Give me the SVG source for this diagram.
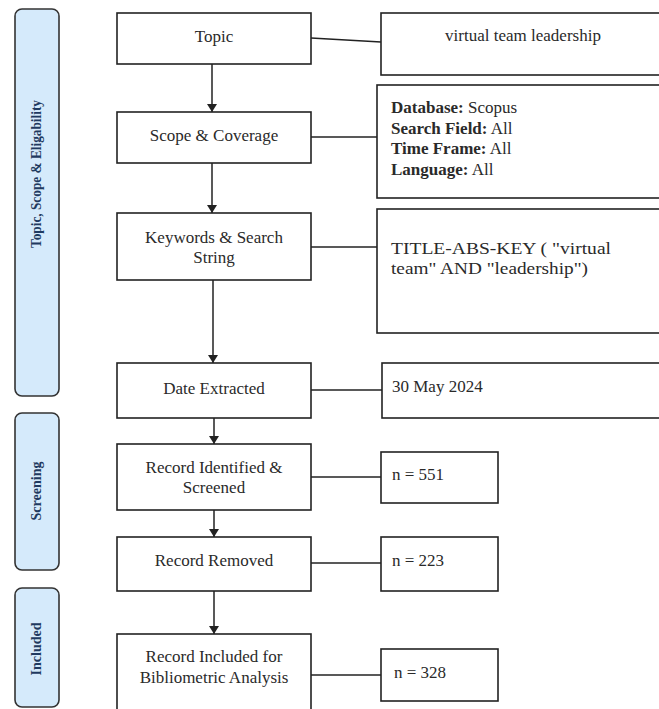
<svg xmlns="http://www.w3.org/2000/svg" width="659" height="709" viewBox="0 0 659 709">
<defs>
<style>
.box{fill:#fff;stroke:#222;stroke-width:1.6}
.side{fill:#d5eafb;stroke:#333;stroke-width:1.6}
.t{font-family:"Liberation Serif","Times New Roman",serif;font-size:17px;fill:#2a2a2a}
.c{text-anchor:middle}
.st{font-family:"Liberation Serif","Times New Roman",serif;font-size:14px;font-weight:bold;fill:#1f3a60;text-anchor:middle}
.ln{stroke:#222;stroke-width:1.5;fill:none}
</style>
<marker id="ah" viewBox="0 0 8 10" refX="8" refY="5" markerWidth="8" markerHeight="10" markerUnits="userSpaceOnUse" orient="auto">
<path d="M0,0 L8,5 L0,10 Z" fill="#222"/>
</marker>
</defs>
<rect width="659" height="709" fill="#fff"/>

<g id="stage-topic">
<rect class="side" x="15" y="9" width="44" height="387" rx="7"/>
<text class="st" transform="translate(41,174) rotate(-90)" textLength="148" lengthAdjust="spacingAndGlyphs">Topic, Scope &amp; Eligability</text>
</g>
<g id="stage-screening">
<rect class="side" x="15" y="413" width="44" height="157" rx="7"/>
<text class="st" transform="translate(41,491) rotate(-90)">Screening</text>
</g>
<g id="stage-included">
<rect class="side" x="15" y="588" width="44" height="119" rx="7"/>
<text class="st" transform="translate(41,649) rotate(-90)">Included</text>
</g>

<g id="connectors">
<line class="ln" x1="212" y1="64" x2="212" y2="112" marker-end="url(#ah)"/>
<line class="ln" x1="212" y1="163" x2="212" y2="213" marker-end="url(#ah)"/>
<line class="ln" x1="213" y1="280" x2="213" y2="363" marker-end="url(#ah)"/>
<line class="ln" x1="214" y1="418" x2="214" y2="444" marker-end="url(#ah)"/>
<line class="ln" x1="214" y1="510" x2="214" y2="537" marker-end="url(#ah)"/>
<line class="ln" x1="214" y1="591" x2="214" y2="634" marker-end="url(#ah)"/>
<line class="ln" x1="311" y1="38" x2="381" y2="42"/>
<line class="ln" x1="311" y1="137" x2="377" y2="137"/>
<line class="ln" x1="311" y1="247" x2="377" y2="247"/>
<line class="ln" x1="311" y1="390" x2="382" y2="390"/>
<line class="ln" x1="311" y1="477" x2="381" y2="477"/>
<line class="ln" x1="311" y1="563" x2="381" y2="563"/>
<line class="ln" x1="311" y1="675" x2="381" y2="675"/>
</g>

<g id="topic">
<rect class="box" x="117" y="13" width="194" height="51"/>
<text class="t c" x="214" y="42">Topic</text>
</g>
<g id="scope">
<rect class="box" x="117" y="112" width="194" height="51"/>
<text class="t c" x="214" y="141">Scope &amp; Coverage</text>
</g>
<g id="keywords">
<rect class="box" x="117" y="213" width="194" height="67"/>
<text class="t c" x="214" y="243">Keywords  &amp; Search</text>
<text class="t c" x="214" y="263">String</text>
</g>
<g id="date">
<rect class="box" x="117" y="363" width="194" height="55"/>
<text class="t c" x="214" y="394">Date Extracted</text>
</g>
<g id="identified">
<rect class="box" x="117" y="444" width="194" height="66"/>
<text class="t c" x="214" y="473">Record Identified &amp;</text>
<text class="t c" x="214" y="493">Screened</text>
</g>
<g id="removed">
<rect class="box" x="117" y="537" width="194" height="54"/>
<text class="t c" x="214" y="566">Record Removed</text>
</g>
<g id="included">
<rect class="box" x="117" y="634" width="194" height="80"/>
<text class="t c" x="214" y="662">Record Included  for</text>
<text class="t c" x="214" y="683">Bibliometric Analysis</text>
</g>

<g id="topic-value">
<rect class="box" x="381" y="13" width="290" height="62"/>
<text class="t c" x="523" y="41">virtual team leadership</text>
</g>
<g id="scope-value">
<rect class="box" x="377" y="85" width="294" height="113"/>
<text class="t" x="391" y="113"><tspan font-weight="bold">Database:</tspan> Scopus</text>
<text class="t" x="391" y="133.5"><tspan font-weight="bold">Search  Field:</tspan> All</text>
<text class="t" x="391" y="154"><tspan font-weight="bold">Time Frame:</tspan> All</text>
<text class="t" x="391" y="174.5"><tspan font-weight="bold">Language:</tspan> All</text>
</g>
<g id="search-string">
<rect class="box" x="377" y="209" width="294" height="124"/>
<text class="t" x="391" y="254" textLength="220" lengthAdjust="spacingAndGlyphs">TITLE-ABS-KEY ( "virtual</text>
<text class="t" x="391" y="274" textLength="197" lengthAdjust="spacingAndGlyphs">team" AND "leadership")</text>
</g>
<g id="date-value">
<rect class="box" x="382" y="363" width="290" height="55"/>
<text class="t" x="392" y="392">30 May 2024</text>
</g>
<g id="n551">
<rect class="box" x="381" y="452" width="117" height="51"/>
<text class="t" x="392" y="480">n = 551</text>
</g>
<g id="n223">
<rect class="box" x="381" y="537" width="117" height="54"/>
<text class="t" x="392" y="566">n = 223</text>
</g>
<g id="n328">
<rect class="box" x="381" y="649" width="117" height="52"/>
<text class="t" x="394" y="678">n = 328</text>
</g>
</svg>
